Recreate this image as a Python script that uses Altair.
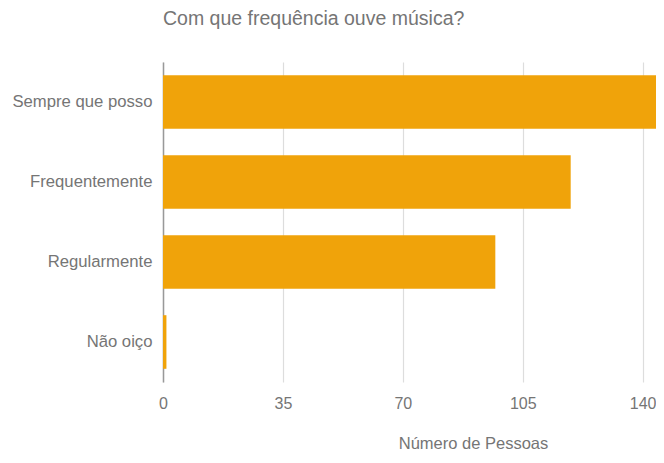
import altair as alt
import pandas as pd

categories = ["Sempre que posso", "Frequentemente", "Regularmente", "Não oiço"]
values = [150, 119, 97, 1]
x_ticks = [0, 35, 70, 105, 140]

df = pd.DataFrame({"cat": categories, "n": values})

FONT = "Liberation Sans"
GRAY = "#757575"

chart = alt.Chart(df).mark_bar(color="#F0A30A", clip=True).encode(
    y=alt.Y("cat:N", sort=categories,
            scale=alt.Scale(paddingInner=0.33, paddingOuter=0.165),
            axis=alt.Axis(title=None, ticks=False, labelPadding=11,
                          labelFontSize=16.7, labelColor=GRAY, labelFont=FONT,
                          domain=True, domainColor="#999999", domainWidth=1.5,
                          grid=False, minExtent=155, maxExtent=155)),
    x=alt.X("n:Q",
            scale=alt.Scale(domain=[0, 143.9], nice=False, zero=True),
            axis=alt.Axis(values=x_ticks, title="Número de Pessoas",
                          ticks=False, domain=False, grid=True,
                          gridColor="#dddddd", gridWidth=1.2,
                          labelFontSize=16, labelColor=GRAY, labelFont=FONT,
                          labelPadding=13, labelFlush=False,
                          titleFontSize=16.5, titleColor=GRAY, titleFont=FONT,
                          titleFontWeight="normal",
                          titleX=310, titleY=66, titleAlign="center",
                          titleBaseline="alphabetic")),
).properties(
    width=493,
    height=320,
    padding={"left": 0, "top": 0, "right": 0, "bottom": 0},
    title=alt.TitleParams("Com que frequência ouve música?", anchor="start",
                          frame="group", font=FONT, fontSize=19.5,
                          fontWeight="normal", color=GRAY, offset=33),
).configure_view(stroke=None)

chart.save("out.html", embed_options={"renderer": "svg", "actions": False})
